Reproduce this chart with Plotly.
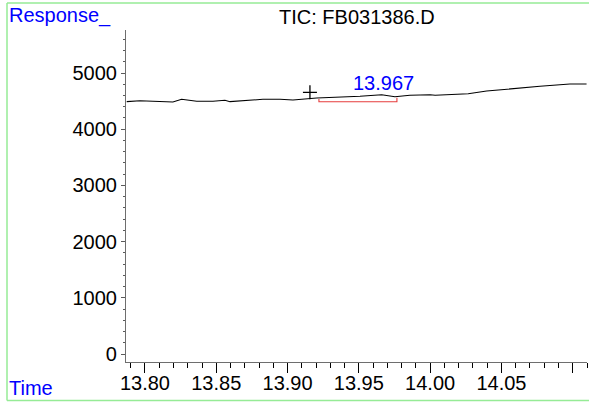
import plotly.graph_objects as go

# --- data ---
time = [13.7872, 13.7965, 13.8056, 13.8196, 13.8257, 13.8363, 13.8477, 13.8561,
        13.8596, 13.8666, 13.8757, 13.8827, 13.8947, 13.9038, 13.9204, 13.9344,
        13.9508, 13.9660, 13.9753, 13.9858, 14.0000, 14.0035, 14.0267, 14.0396,
        14.0630, 14.0770, 14.0980, 14.1097]
response = [4490, 4507, 4496, 4484, 4532, 4496, 4496, 4514,
            4490, 4502, 4507, 4532, 4532, 4520, 4555, 4567,
            4585, 4614, 4578, 4603, 4614, 4603, 4632, 4680,
            4739, 4763, 4804, 4804]

baseline_time = [13.922, 13.922, 13.9767, 13.9767]
baseline_resp = [4537, 4489, 4489, 4561]

peak_time = 13.967
peak_label = "13.967"
peak_label_resp = 4822
cross_time = [13.9157]
cross_resp = [4656]

x_tickvals = [13.80, 13.85, 13.90, 13.95, 14.00, 14.05, 14.10]
x_ticktext = ["13.80", "13.85", "13.90", "13.95", "14.00", "14.05", ""]
y_tickvals = [0, 1000, 2000, 3000, 4000, 5000]
y_ticktext = ["0", "1000", "2000", "3000", "4000", "5000"]

title_text = "TIC: FB031386.D"
y_title = "Response_"
x_title = "Time"

FONT = "Liberation Sans, Arial, sans-serif"
BLUE = "rgb(0,0,255)"
GREEN = "rgb(150,235,150)"

fig = go.Figure()
fig.add_trace(go.Scatter(x=time, y=response, mode="lines",
                         line=dict(color="black", width=1.1), hoverinfo="skip"))
fig.add_trace(go.Scatter(x=baseline_time, y=baseline_resp, mode="lines",
                         line=dict(color="rgb(230,60,60)", width=1.1), hoverinfo="skip"))
fig.add_trace(go.Scatter(x=cross_time, y=cross_resp, mode="markers",
                         marker=dict(symbol="cross-thin", size=10,
                                     line=dict(color="black", width=1.3)),
                         hoverinfo="skip"))

fig.add_annotation(x=peak_time, y=peak_label_resp, text=peak_label, showarrow=False,
                   font=dict(family=FONT, size=20, color=BLUE),
                   xanchor="center", yanchor="middle")

# left/top text
W, L, R, T, B = 589, 126, 2, 30, 42
pw = W - L - R
ph = 404 - T - B

def px_x(x):
    return (x - L) / pw

def px_y(y):
    return (404 - B - y) / ph

fig.add_annotation(xref="paper", yref="paper", x=px_x(7), y=px_y(15), text=y_title,
                   showarrow=False, xanchor="left", yanchor="middle",
                   font=dict(family=FONT, size=20, color=BLUE))
fig.add_annotation(xref="paper", yref="paper", x=px_x(7), y=px_y(388), text=x_title,
                   showarrow=False, xanchor="left", yanchor="middle",
                   font=dict(family=FONT, size=20, color=BLUE))
fig.add_annotation(xref="paper", yref="paper", x=0.5, y=px_y(17), text=title_text,
                   showarrow=False, xanchor="center", yanchor="middle",
                   font=dict(family=FONT, size=20, color="black"))

# green frame
for (x0, y0, x1, y1) in [(7, 3, 600, 3), (7, 3, 7, 400.5), (7, 400.5, 600, 400.5)]:
    fig.add_shape(type="line", xref="paper", yref="paper",
                  x0=px_x(x0), y0=px_y(y0), x1=px_x(x1), y1=px_y(y1),
                  line=dict(color=GREEN, width=1.5))

fig.update_xaxes(range=[13.7867, 14.1100], tickmode="array", tickvals=x_tickvals,
                 ticktext=x_ticktext, ticks="outside", ticklen=10, tickwidth=1.2,
                 tickcolor="black", showline=True, linecolor="rgb(110,110,110)",
                 linewidth=1.2, showgrid=False, zeroline=False, ticklabelstandoff=-7,
                 tickfont=dict(family=FONT, size=20, color="black"),
                 minor=dict(tickmode="linear", tick0=13.79, dtick=0.01, ticks="outside",
                            ticklen=5, tickwidth=1, tickcolor="black", showgrid=False))
fig.update_yaxes(range=[-142, 5765], tickmode="array", tickvals=y_tickvals,
                 ticktext=y_ticktext, ticks="outside", ticklen=4, tickwidth=1.2,
                 tickcolor="rgb(90,90,90)", showline=True, linecolor="rgb(110,110,110)",
                 linewidth=1.2, showgrid=False, zeroline=False,
                 tickfont=dict(family=FONT, size=20, color="black"),
                 minor=dict(tickmode="linear", tick0=0, dtick=200, ticks="outside",
                            ticklen=2, tickwidth=1, tickcolor="rgb(90,90,90)", showgrid=False))

fig.update_layout(width=W, height=404, margin=dict(l=L, r=R, t=T, b=B, autoexpand=False),
                  plot_bgcolor="white", paper_bgcolor="white", showlegend=False,
                  font=dict(family=FONT))

fig.write_html("out.html", config={"displayModeBar": False},
               post_script="document.body.style.margin='0';document.body.style.padding='0';")
